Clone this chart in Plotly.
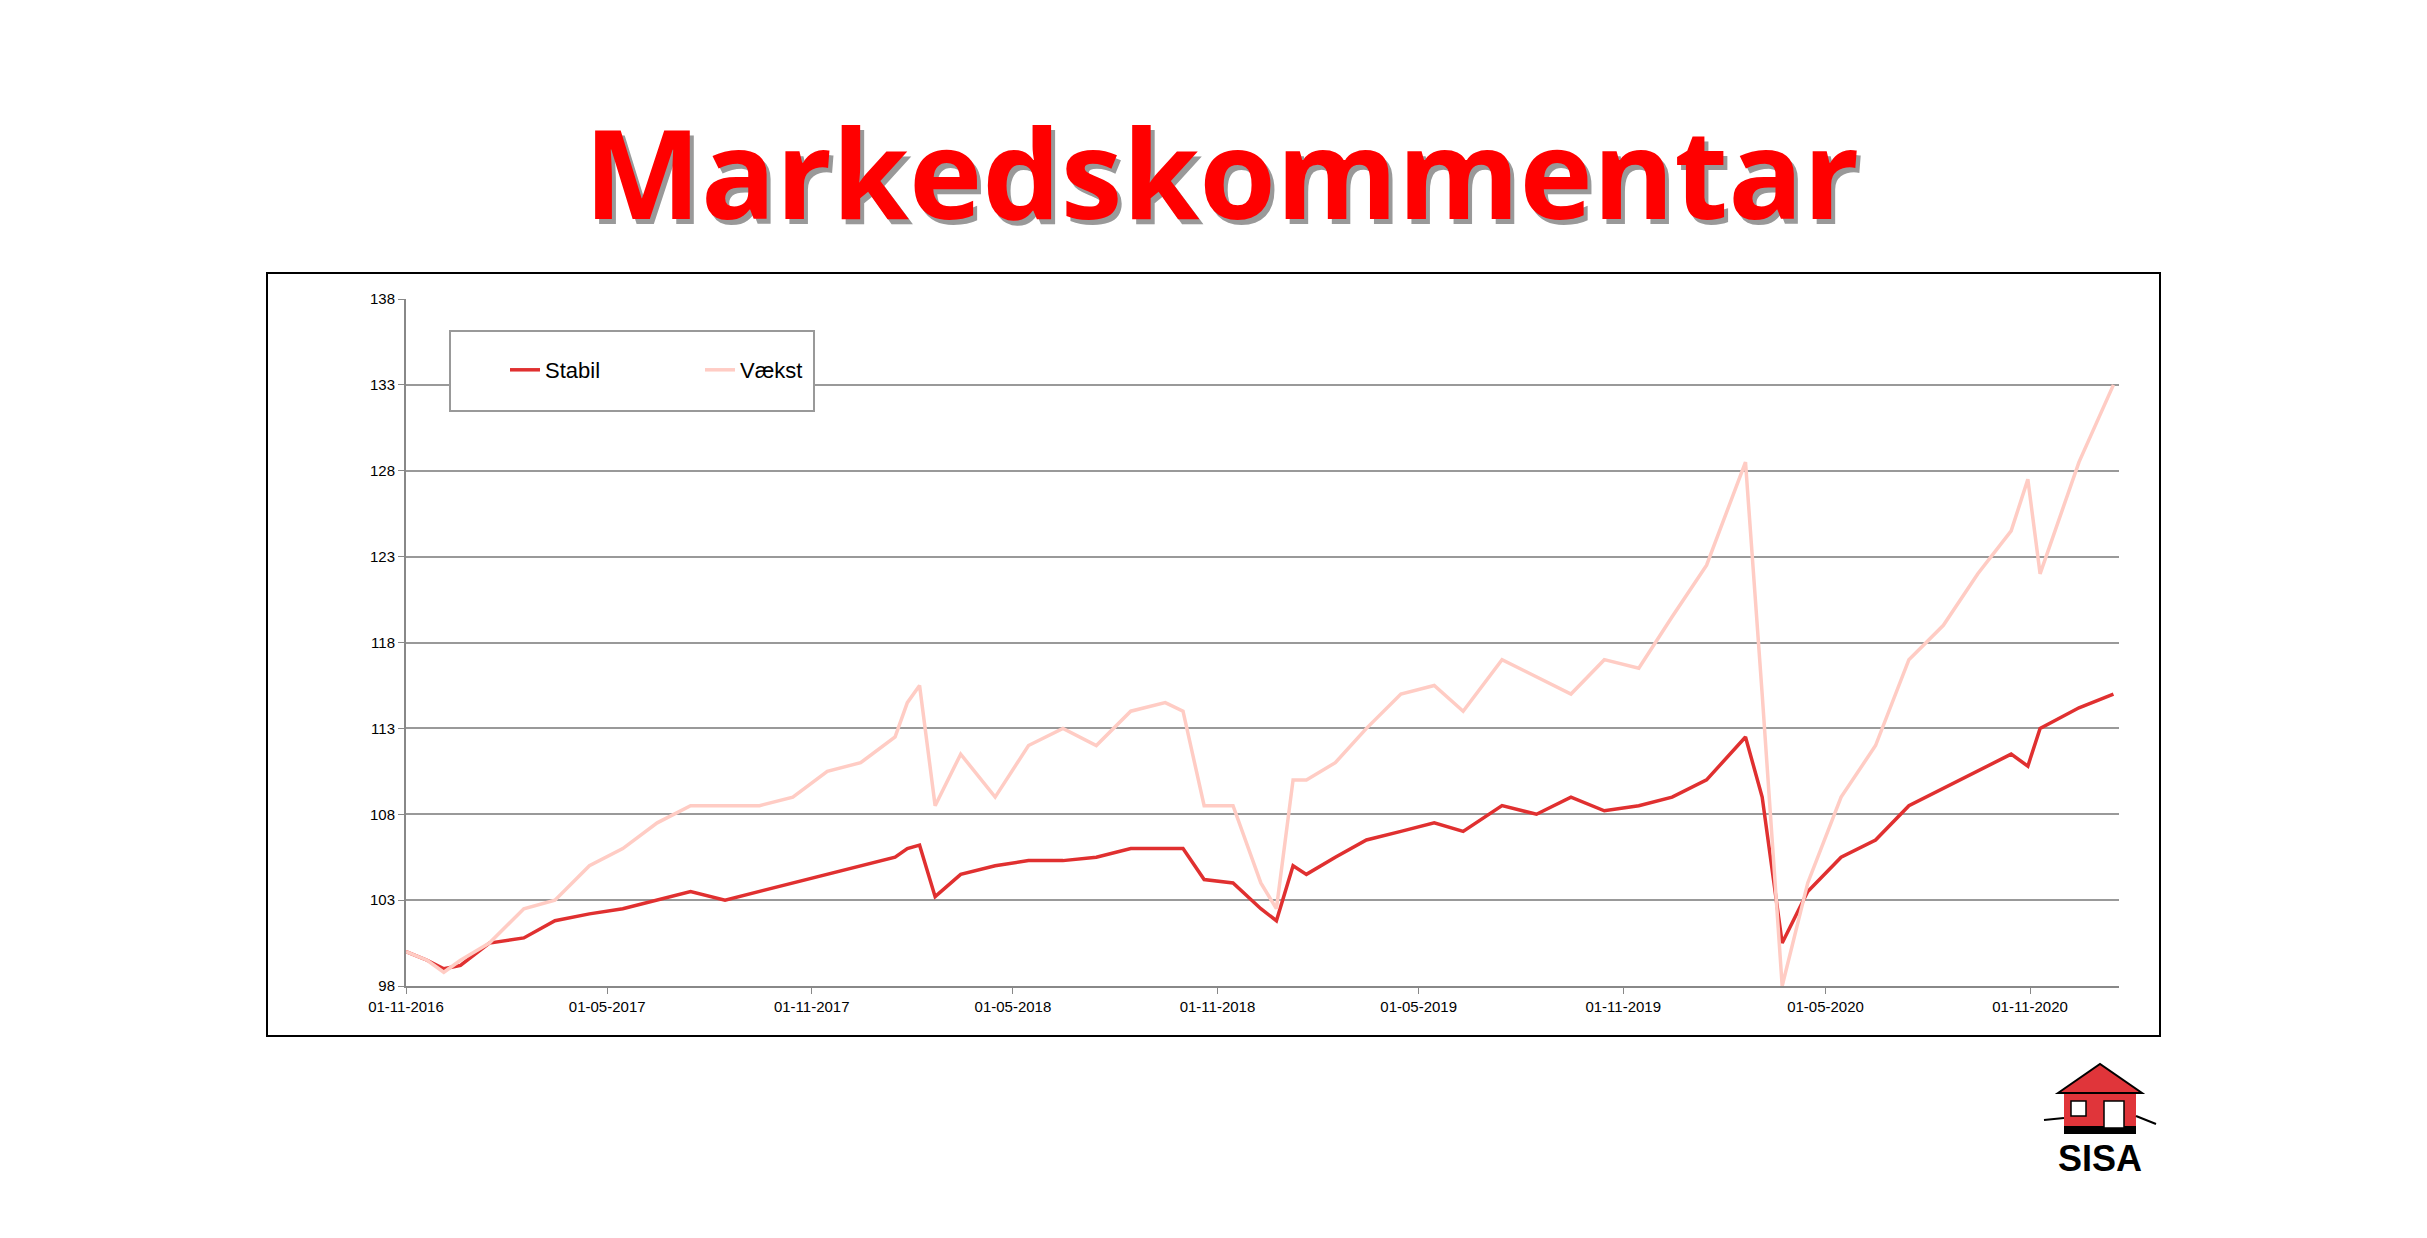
import plotly.graph_objects as go

dates = ["2016-11-01","2016-11-20","2016-12-05","2016-12-20","2017-01-15","2017-02-15","2017-03-15","2017-04-15","2017-05-15","2017-06-15","2017-07-15","2017-08-15","2017-09-15","2017-10-15","2017-11-15","2017-12-15","2018-01-15","2018-01-26","2018-02-06","2018-02-20","2018-03-15","2018-04-15","2018-05-15","2018-06-15","2018-07-15","2018-08-15","2018-09-15","2018-10-01","2018-10-20","2018-11-15","2018-12-10","2018-12-24","2019-01-08","2019-01-20","2019-02-15","2019-03-15","2019-04-15","2019-05-15","2019-06-10","2019-07-15","2019-08-15","2019-09-15","2019-10-15","2019-11-15","2019-12-15","2020-01-15","2020-02-19","2020-03-05","2020-03-23","2020-04-15","2020-05-15","2020-06-15","2020-07-15","2020-08-15","2020-09-15","2020-10-15","2020-10-30","2020-11-10","2020-12-15","2021-01-15"]
stabil = [100,99.5,99,99.2,100.5,100.8,101.8,102.2,102.5,103,103.5,103,103.5,104,104.5,105,105.5,106,106.2,103.2,104.5,105,105.3,105.3,105.5,106,106,106,104.2,104,102.5,101.8,105,104.5,105.5,106.5,107,107.5,107,108.5,108,109,108.2,108.5,109,110,112.5,109,100.5,103.5,105.5,106.5,108.5,109.5,110.5,111.5,110.8,113,114.2,115]
vaekst = [100,99.5,98.8,99.5,100.5,102.5,103,105,106,107.5,108.5,108.5,108.5,109,110.5,111,112.5,114.5,115.5,108.5,111.5,109,112,113,112,114,114.5,114,108.5,108.5,104,102.5,110,110,111,113,115,115.5,114,117,116,115,117,116.5,119.5,122.5,128.5,115,98,104,109,112,117,119,122,124.5,127.5,122,128.5,133]
yticks = [98,103,108,113,118,123,128,133,138]
xticks = ["2016-11-01","2017-05-01","2017-11-01","2018-05-01","2018-11-01","2019-05-01","2019-11-01","2020-05-01","2020-11-01"]
xlabels = ["01-11-2016","01-05-2017","01-11-2017","01-05-2018","01-11-2018","01-05-2019","01-11-2019","01-05-2020","01-11-2020"]

W, H = 2427, 1238
L, R, T, B = 398, 316, 291, 260
PW, PH = W - L - R, H - T - B
def px(x): return (x - L) / PW
def py(y): return (H - B - y) / PH

fig = go.Figure()
fig.add_trace(go.Scatter(x=dates, y=stabil, name="Stabil", mode="lines", line=dict(color="#E03030", width=3.5)))
fig.add_trace(go.Scatter(x=dates, y=vaekst, name="Vækst", mode="lines", line=dict(color="#FFCCC4", width=3.5)))

fig.update_layout(
    width=W, height=H, paper_bgcolor="white", plot_bgcolor="white",
    margin=dict(l=L, r=R, t=T, b=B),
    font=dict(family="Liberation Sans, Arial", color="black"),
    legend=dict(orientation="h", x=px(497), y=py(362), xanchor="left", yanchor="middle",
                borderwidth=0, bgcolor="rgba(0,0,0,0)",
                font=dict(size=22), entrywidth=150, itemwidth=30),
    showlegend=True,
)
fig.update_xaxes(range=["2016-11-01","2021-01-20"], tickvals=xticks, ticktext=xlabels,
                 showgrid=False, showline=True, linecolor="#888", linewidth=2,
                 ticks="outside", ticklen=6, tickcolor="#888", tickfont=dict(size=15))
fig.update_yaxes(range=[98,138], tickvals=yticks, showgrid=True, gridcolor="#999", gridwidth=1.5,
                 showline=True, linecolor="#888", linewidth=2, ticks="outside", ticklen=6,
                 tickcolor="#888", tickfont=dict(size=15), zeroline=False)

def rect(x0, y0, x1, y1, **kw):
    return dict(type="rect", xref="paper", yref="paper", x0=px(x0), x1=px(x1), y0=py(y1), y1=py(y0), **kw)

shapes = [rect(259, 265, 2152, 1028, line=dict(color="black", width=2), layer="below"),
          rect(442, 323, 806, 403, fillcolor="white", line=dict(color="#999", width=2))]
# logo
ox = -12
shapes += [
    rect(2068+ox, 1083, 2140+ox, 1118, fillcolor="#E0353A", line=dict(width=0)),
    dict(type="path", xref="paper", yref="paper",
         path=f"M {px(2062+ox)} {py(1085)} L {px(2104+ox)} {py(1056)} L {px(2146+ox)} {py(1085)} Z",
         fillcolor="#E0353A", line=dict(color="black", width=2)),
    rect(2068+ox, 1118, 2140+ox, 1126, fillcolor="black", line=dict(width=0)),
    rect(2075+ox, 1093, 2090+ox, 1108, fillcolor="white", line=dict(color="black", width=1.5)),
    rect(2108+ox, 1093, 2128+ox, 1120, fillcolor="white", line=dict(color="black", width=1.5)),
    dict(type="line", xref="paper", yref="paper", x0=px(2048+ox), x1=px(2068+ox), y0=py(1112), y1=py(1110), line=dict(color="black", width=2)),
    dict(type="line", xref="paper", yref="paper", x0=px(2140+ox), x1=px(2160+ox), y0=py(1108), y1=py(1116), line=dict(color="black", width=2)),
]
fig.update_layout(shapes=shapes)

fig.add_annotation(text="<b>Markedskommentar</b>", xref="paper", yref="paper", x=px(1217), y=py(167),
                   xanchor="center", yanchor="middle",
                   showarrow=False, font=dict(size=124, color="#999", family="Open Sans, Liberation Sans"))
fig.add_annotation(text="<b>Markedskommentar</b>", xref="paper", yref="paper", x=px(1213), y=py(163),
                   xanchor="center", yanchor="middle",
                   showarrow=False, font=dict(size=124, color="#FF0000", family="Open Sans, Liberation Sans"))
fig.add_annotation(text="<b>SISA</b>", xref="paper", yref="paper", x=px(2092), y=py(1150),
                   xanchor="center", yanchor="middle",
                   showarrow=False, font=dict(size=36, color="black", family="Liberation Sans"))

fig.write_html("out.html")
